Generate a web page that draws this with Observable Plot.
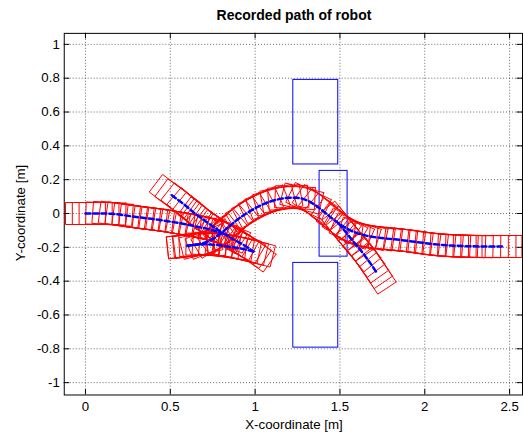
<!DOCTYPE html>
<html><head><meta charset="utf-8">
<script src="https://cdn.jsdelivr.net/npm/d3@7"></script>
<script src="https://cdn.jsdelivr.net/npm/@observablehq/plot@0.6"></script>
<style>
html,body{margin:0;padding:0;background:#fff;overflow:hidden;}
#wrap{position:relative;width:523px;height:434px;overflow:hidden;background:#fff;}
#wrap svg{position:absolute;left:0;top:0;}
.lbl{position:absolute;font-family:"Liberation Sans",Arial,sans-serif;color:#000;white-space:nowrap;text-align:center;}
#title{left:64px;width:460px;top:7px;font-size:14px;font-weight:bold;line-height:16px;}
#xlabel{left:64px;width:460px;top:416.5px;font-size:13.3px;line-height:16px;}
#ylabel{left:-79px;top:205px;width:200px;font-size:13.3px;line-height:16px;transform:rotate(-90deg);transform-origin:100px 8px;}
</style></head><body>
<div id="wrap">
<div id="title" class="lbl">Recorded path of robot</div>
<div id="xlabel" class="lbl">X-coordinate [m]</div>
<div id="ylabel" class="lbl">Y-coordinate [m]</div>
</div>
<script>
// ---- tick labels ----
const xTicks = [0, 0.5, 1, 1.5, 2, 2.5];
const yTicks = [-1, -0.8, -0.6, -0.4, -0.2, 0, 0.2, 0.4, 0.6, 0.8, 1];

// ---- obstacles (blue rectangles) ----
const obstX1 = [1.225, 1.38, 1.225];
const obstX2 = [1.49, 1.545, 1.49];
const obstY1 = [0.29, -0.255, -0.793];
const obstY2 = [0.79, 0.252, -0.292];

// ---- recorded robot path segments [x, y] ----
const pathA = [[0.00,0.000],[0.04,0.000],[0.08,0.000],[0.12,0.000],[0.16,-0.002],[0.20,-0.006],[0.24,-0.012],[0.28,-0.018],[0.32,-0.023],[0.36,-0.028],[0.40,-0.033],[0.44,-0.039],[0.48,-0.045],[0.52,-0.051],[0.56,-0.058],[0.60,-0.066],[0.64,-0.074],[0.68,-0.082],[0.72,-0.091],[0.76,-0.102],[0.80,-0.114],[0.84,-0.130]];
const pathB = [[0.509,0.108],[0.542,0.083],[0.577,0.058],[0.612,0.028],[0.645,0.000],[0.678,-0.024],[0.712,-0.049],[0.746,-0.073],[0.781,-0.097],[0.817,-0.120],[0.853,-0.142],[0.890,-0.163],[0.928,-0.183],[0.962,-0.205],[0.990,-0.225]];
const pathC = [[0.990,-0.225],[0.950,-0.215],[0.910,-0.206],[0.870,-0.199],[0.830,-0.193],[0.790,-0.188],[0.750,-0.184],[0.710,-0.182],[0.670,-0.183],[0.635,-0.186],[0.600,-0.190]];
const pathD = [[0.600,-0.190],[0.640,-0.186],[0.680,-0.179],[0.720,-0.166],[0.755,-0.148],[0.790,-0.124],[0.823,-0.097],[0.855,-0.070],[0.888,-0.042],[0.922,-0.017],[0.958,0.007],[0.996,0.029],[1.035,0.049],[1.075,0.066],[1.115,0.079],[1.155,0.088],[1.195,0.093],[1.235,0.094],[1.275,0.089],[1.315,0.074],[1.352,0.052],[1.388,0.025],[1.423,-0.004],[1.458,-0.033],[1.493,-0.059],[1.530,-0.083],[1.570,-0.104],[1.612,-0.120],[1.655,-0.131],[1.700,-0.139],[1.745,-0.145],[1.790,-0.150],[1.835,-0.154],[1.880,-0.159],[1.925,-0.165],[1.970,-0.171],[2.015,-0.177],[2.060,-0.182],[2.105,-0.186],[2.150,-0.189],[2.195,-0.191],[2.240,-0.193],[2.285,-0.194],[2.330,-0.195],[2.375,-0.195],[2.420,-0.195],[2.455,-0.195]];
const pathE = [[1.493,-0.059],[1.518,-0.090],[1.542,-0.120],[1.566,-0.150],[1.592,-0.181],[1.618,-0.212],[1.643,-0.244],[1.667,-0.277],[1.690,-0.310],[1.712,-0.343]];

// robot footprint size [m]
const robotLength = 0.235, robotWidth = 0.13;

// ---- layout ----
const W = 525, H = 434, mL = 64, mR = 1, mT = 33, mB = 38;
const xDom = [-0.125, 2.576], yDom = [-1.073, 1.065];
const tlx = 5.5 * (xDom[1] - xDom[0]) / (W - mL - mR);
const tly = 5.5 * (yDom[1] - yDom[0]) / (H - mT - mB);

const obstacles = obstX1.map((x1, i) => ({x1, x2: obstX2[i], y1: obstY1[i], y2: obstY2[i]}));

const segments = {A: pathA, B: pathB, C: pathC, D: pathD, E: pathE};
const pathRows = [], rectRows = [];
let rid = 0;
for (const [name, pts] of Object.entries(segments)) {
  pts.forEach(([x, y], i) => {
    pathRows.push({seg: name, x, y});
    const p0 = pts[Math.max(0, i - 1)], p1 = pts[Math.min(pts.length - 1, i + 1)];
    const th = Math.atan2(p1[1] - p0[1], p1[0] - p0[0]);
    const c = Math.cos(th), s = Math.sin(th);
    const hl = robotLength / 2, hw = robotWidth / 2;
    for (const [a, b] of [[hl,hw],[-hl,hw],[-hl,-hw],[hl,-hw],[hl,hw]]) {
      rectRows.push({id: rid, x: x + a * c - b * s, y: y + a * s + b * c});
    }
    rid++;
  });
}

const gridStyle = {stroke: "#000", strokeOpacity: 0.6, strokeDasharray: "1,2", strokeWidth: 1};

const chart = Plot.plot({
  width: W, height: H,
  marginLeft: mL, marginRight: mR, marginTop: mT, marginBottom: mB,
  x: {domain: xDom},
  y: {domain: yDom},
  style: {fontFamily: '"Liberation Sans", Arial, sans-serif', fontSize: "13.3px", color: "#000", background: "transparent"},
  marks: [
    Plot.ruleX(xTicks, gridStyle),
    Plot.ruleY(yTicks, gridStyle),
    Plot.rect(obstacles, {x1: "x1", x2: "x2", y1: "y1", y2: "y2", stroke: "#0000ff", fill: "none", strokeWidth: 1}),
    Plot.line(rectRows, {x: "x", y: "y", z: "id", stroke: "#ff0000", strokeWidth: 1, clip: true}),
    Plot.line(pathRows, {x: "x", y: "y", z: "seg", stroke: "#0000ff", strokeWidth: 2.5, strokeDasharray: "5,3", clip: true}),
    Plot.ruleX(xTicks, {y1: yDom[0], y2: yDom[0] + tly, stroke: "#000"}),
    Plot.ruleX(xTicks, {y1: yDom[1] - tly, y2: yDom[1], stroke: "#000"}),
    Plot.ruleY(yTicks, {x1: xDom[0], x2: xDom[0] + tlx, stroke: "#000"}),
    Plot.ruleY(yTicks, {x1: xDom[1] - tlx, x2: xDom[1], stroke: "#000"}),
    Plot.frame({stroke: "#000"}),
    Plot.axisX(xTicks, {tickSize: 0, tickPadding: 7, tickFormat: d => String(d), label: null}),
    Plot.axisY(yTicks, {tickSize: 0, tickPadding: 4.5, tickFormat: d => String(d), label: null})
  ]
});
document.getElementById("wrap").prepend(chart);
</script>
</body></html>
